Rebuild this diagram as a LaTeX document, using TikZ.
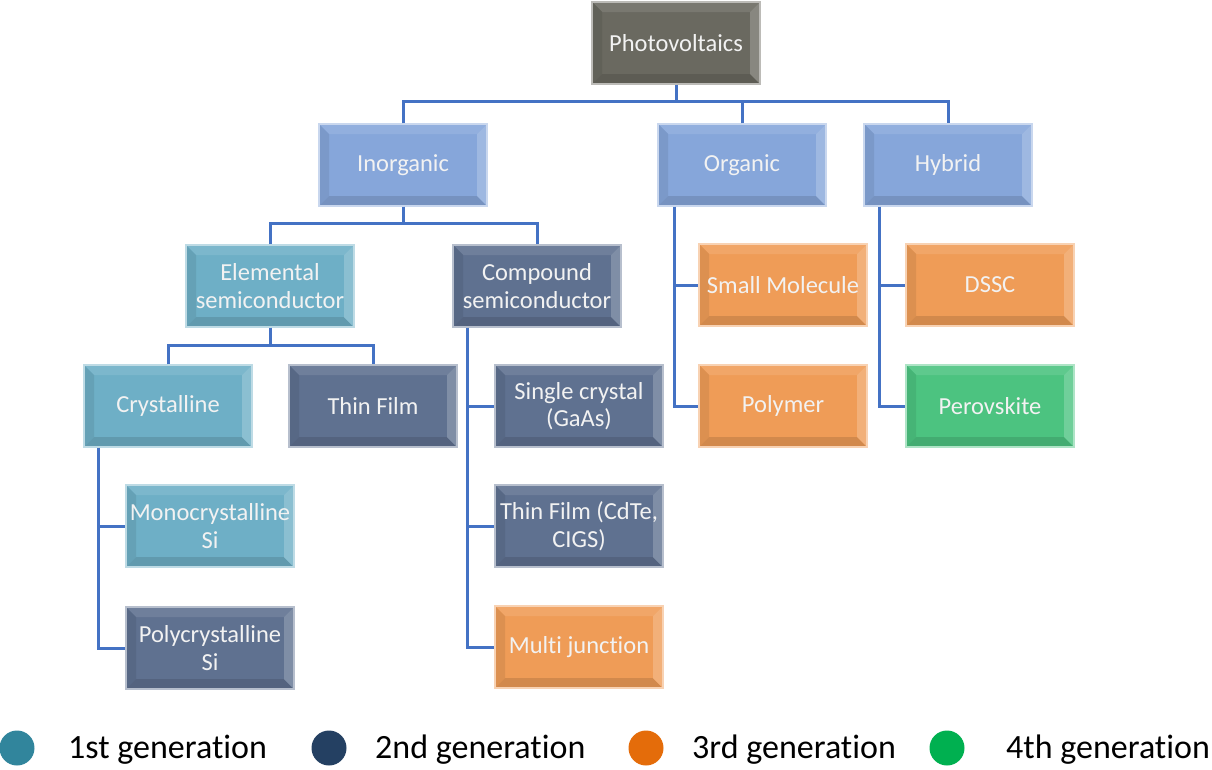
\documentclass[tikz,border=0pt]{standalone}
\usepackage{fontspec}
\setmainfont{Carlito}[Ligatures=NoCommon]
\usetikzlibrary{calc}
\definecolor{pvgray}{HTML}{6A6960}
\definecolor{lblue}{HTML}{86A6DA}
\definecolor{tealb}{HTML}{6EAFC6}
\definecolor{slate}{HTML}{5F7190}
\definecolor{orng}{HTML}{EF9C57}
\definecolor{grn}{HTML}{4CC380}
\definecolor{conncol}{HTML}{4472C4}
\definecolor{legA}{HTML}{31859C}
\definecolor{legB}{HTML}{244062}
\definecolor{legC}{HTML}{E46C0A}
\definecolor{legD}{HTML}{00B050}
\tikzset{
  bev/.style={rectangle, minimum width=168pt, minimum height=82pt, inner sep=0pt,
    fill=#1, draw=#1!45!white, line width=1.2pt, text=white!95!black, align=center,
    font=\fontsize{24.5}{27.5}\selectfont,
    path picture={
      \coordinate (nw) at (path picture bounding box.north west);
      \coordinate (ne) at (path picture bounding box.north east);
      \coordinate (sw) at (path picture bounding box.south west);
      \coordinate (se) at (path picture bounding box.south east);
      \fill[#1!90!white] (nw) -- (ne) -- ($(ne)+(-10pt,-10pt)$) -- ($(nw)+(10pt,-10pt)$) -- cycle;
      \fill[#1!92!black] (nw) -- (sw) -- ($(sw)+(10pt,10pt)$) -- ($(nw)+(10pt,-10pt)$) -- cycle;
      \fill[#1!88!black] (sw) -- (se) -- ($(se)+(-10pt,10pt)$) -- ($(sw)+(10pt,10pt)$) -- cycle;
      \fill[#1!80!white] (ne) -- (se) -- ($(se)+(-10pt,10pt)$) -- ($(ne)+(-10pt,-10pt)$) -- cycle;
    }},
  conn/.style={draw=conncol, line width=3pt},
  legtxt/.style={anchor=base west, font=\fontsize{34}{38}\selectfont, text=black, inner sep=0pt},
}
\begin{document}
\begin{tikzpicture}[x=1pt,y=-1pt]
\useasboundingbox (0,0) rectangle (1212,769);
\clip (0,0) rectangle (1212,769);
% nodes
\node[bev=pvgray] (pv) at (676,43) {Photovoltaics};
\node[bev=lblue] (inorg) at (403,165) {Inorganic};
\node[bev=lblue] (org) at (742,165) {Organic};
\node[bev=lblue] (hyb) at (948,165) {Hybrid};
\node[bev=tealb] (elem) at (270,286) {Elemental\\semiconductor};
\node[bev=slate] (comp) at (537,286) {Compound\\semiconductor};
\node[bev=orng] (small) at (783,285) {Small Molecule};
\node[bev=orng] (dssc) at (990,285) {DSSC};
\node[bev=tealb] (cry) at (168,406) {Crystalline};
\node[bev=slate] (thin) at (373,406) {Thin Film};
\node[bev=slate] (sc) at (579,406) {Single crystal\\(GaAs)};
\node[bev=orng] (poly) at (783,406) {Polymer};
\node[bev=grn] (perov) at (990,406) {Perovskite};
\node[bev=tealb] (mono) at (210,526) {Monocrystalline\\Si};
\node[bev=slate] (tfc) at (579,526) {Thin Film (CdTe,\\CIGS)};
\node[bev=slate] (pcs) at (210,648) {Polycrystalline\\Si};
\node[bev=orng] (mj) at (579,647) {Multi junction};
% connectors
\draw[conn] (pv.south) -- ++(0,18);
\draw[conn] (inorg.north) -- ++(0,-22) -| (hyb.north);
\draw[conn] (org.north) -- ++(0,-22);
\draw[conn] (inorg.south) -- ++(0,18);
\draw[conn] (elem.north) -- ++(0,-21) -| (comp.north);
\draw[conn] (elem.south) -- ++(0,19);
\draw[conn] (cry.north) -- ++(0,-19) -| (thin.north);
\coordinate (cv) at ($(comp.south west)+(15pt,0)$);
\draw[conn] (cv) |- (mj.west);
\draw[conn] (sc.west -| cv) -- (sc.west);
\draw[conn] (tfc.west -| cv) -- (tfc.west);
\coordinate (crv) at ($(cry.south west)+(15pt,0)$);
\draw[conn] (crv) |- (pcs.west);
\draw[conn] (mono.west -| crv) -- (mono.west);
\coordinate (ov) at ($(org.south west)+(17pt,0)$);
\draw[conn] (ov) |- (poly.west);
\draw[conn] (small.west -| ov) -- (small.west);
\coordinate (hv) at ($(hyb.south west)+(16pt,0)$);
\draw[conn] (hv) |- (perov.west);
\draw[conn] (dssc.west -| hv) -- (dssc.west);
% legend
\fill[legA] (17,748) circle (17.5pt);
\fill[legB] (329,748) circle (17.5pt);
\fill[legC] (646,748) circle (17.5pt);
\fill[legD] (947,748) circle (17.5pt);
\node[legtxt] (l1) at (68,758) {1st generation};
\node[legtxt] (l2) at (375,758) {2nd generation};
\node[legtxt] (l3) at (692,758) {3rd generation};
\node[legtxt] (l4) at (1006,758) {4th generation};
\end{tikzpicture}
\end{document}
